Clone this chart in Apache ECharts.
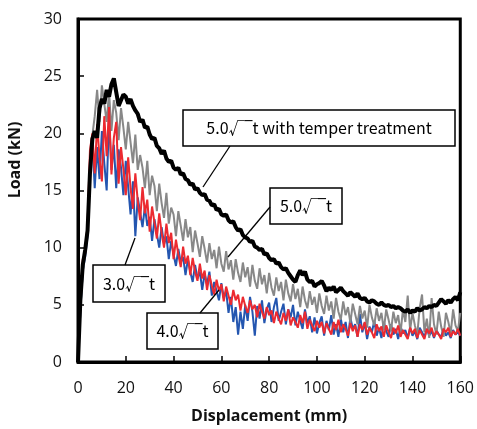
<!DOCTYPE html>
<html>
<head>
<meta charset="utf-8">
<script src="https://cdn.jsdelivr.net/npm/echarts@6/dist/echarts.min.js"></script>
<style>
  html, body { margin: 0; padding: 0; background: #fff; }
  #chart { width: 477px; height: 429px; }
</style>
</head>
<body>
<div id="chart"></div>
<script>
// displacement sampled every 1 mm, 0..160
var stepMm = 1;

var xTicks = [0, 20, 40, 60, 80, 100, 120, 140, 160];
var yTicks = [0, 5, 10, 15, 20, 25, 30];

// 5.0√t with temper treatment (kN)
var loadTemper = [
  0, 5.5, 8.5, 9.8, 11.5, 16.5, 19.5, 20.2, 19.6, 22.2,
  23.0, 22.6, 23.8, 23.2, 24.3, 24.8, 23.6, 22.4, 22.9, 23.4,
  23.2, 22.6, 23.0, 22.4, 22.0, 21.7, 21.0, 21.2, 20.5, 20.6,
  19.9, 19.5, 19.6, 18.9, 18.7, 18.2, 18.5, 17.8, 17.5, 17.6,
  17.0, 16.8, 17.0, 16.4, 16.5, 16.0, 15.9, 15.5, 15.6, 15.1,
  15.2, 14.8, 14.6, 14.7, 14.2, 14.1, 13.7, 13.8, 13.3, 13.4,
  12.9, 12.8, 12.9, 12.4, 12.2, 12.3, 11.8, 11.5, 11.6, 11.1,
  10.9, 10.8, 10.5, 10.6, 10.1, 10.0, 9.8, 9.9, 9.4, 9.5,
  9.1, 8.9, 9.0, 8.6, 8.7, 8.3, 8.1, 8.2, 7.8, 7.5,
  7.2, 7.0, 7.6, 8.0, 7.6, 7.9, 7.2, 7.0, 7.1, 6.6,
  6.8, 6.9, 7.1, 6.7, 6.2, 6.5, 6.3, 6.6, 6.1, 6.3,
  6.5, 6.2, 6.0, 5.8, 6.1, 5.9, 5.7, 6.0, 5.6, 5.5,
  5.6, 5.3, 5.2, 5.4, 5.3, 5.1, 5.0, 5.2, 5.0, 4.9,
  5.0, 4.8, 4.9, 4.7, 4.8, 4.7, 4.5, 4.4, 4.6, 4.3,
  4.5, 4.4, 4.7, 4.5, 4.6, 4.8, 4.7, 4.9, 4.8, 5.0,
  4.9, 5.2, 5.5, 5.3, 5.1, 5.4, 5.2, 5.5, 5.7, 5.4,
  6.1
];

// 5.0√t
var loadT50 = [
  0, 4.5, 8.0, 9.5, 12.0, 17.5, 19.8, 21.5, 23.8, 21.0,
  24.2, 22.6, 21.0, 23.6, 20.2, 22.9, 21.8, 19.4, 22.2, 20.5,
  18.6, 21.0, 19.2, 17.4, 19.9, 16.8, 18.1, 17.0, 15.2, 17.6,
  14.6, 16.3, 15.4, 13.2, 15.6, 13.9, 12.6, 14.8, 12.1, 13.5,
  12.9, 11.0, 13.2, 11.9, 10.6, 12.5, 10.9, 11.8, 9.6, 11.5,
  10.4, 9.2, 11.0, 9.9, 8.7, 10.4, 9.0, 9.8, 8.2, 10.1,
  8.6, 7.9, 9.7, 8.1, 8.9, 7.2, 9.0, 7.8, 7.0, 8.7,
  7.4, 8.3, 6.6, 8.5, 7.1, 6.4, 8.2, 6.8, 7.6, 6.0,
  7.8, 6.5, 5.8, 7.4, 6.2, 7.0, 5.4, 7.2, 6.0, 5.3,
  6.8, 5.5, 6.4, 4.8, 6.6, 5.4, 4.7, 6.2, 5.0, 5.7,
  4.3, 6.0, 4.9, 4.2, 5.8, 4.5, 5.3, 3.8, 5.6, 4.4,
  3.7, 5.3, 4.1, 4.8, 3.4, 5.1, 4.2, 3.3, 4.9, 3.8,
  4.5, 3.0, 5.0, 3.9, 3.2, 4.7, 3.6, 4.3, 2.8, 4.6,
  3.7, 2.7, 4.4, 3.4, 4.1, 2.5, 4.6, 3.5, 5.8, 2.8,
  4.3, 3.2, 2.4, 4.7, 5.9, 2.6, 3.8, 2.1, 5.6, 3.3,
  2.4, 4.4, 3.1, 2.2, 4.3, 3.5, 2.5, 4.6, 3.2, 2.7,
  4.3
];

// 4.0√t
var loadT40 = [
  0, 5.0, 9.0, 9.5, 12.0, 18.5, 20.0, 16.5, 20.8, 17.9,
  15.8, 21.5, 18.0, 22.3, 16.4, 19.6, 21.0, 15.6, 18.8, 16.9,
  14.6, 17.9, 15.2, 13.4, 16.5, 14.1, 12.4, 15.3, 13.0, 14.2,
  11.4, 13.6, 12.2, 10.8, 13.0, 11.3, 10.0, 12.1, 10.4, 11.3,
  9.0, 10.7, 9.4, 8.3, 10.1, 8.6, 9.3, 7.6, 9.1, 7.9,
  7.1, 8.6, 7.3, 8.0, 6.3, 7.6, 6.7, 5.9, 7.2, 6.2,
  6.8, 5.3, 6.6, 5.8, 5.0, 6.3, 5.4, 5.9, 4.5, 5.7,
  4.9, 4.3, 5.4, 4.6, 5.0, 3.9, 5.1, 4.4, 3.8, 4.8,
  4.1, 4.5, 3.4, 4.4, 3.8, 3.3, 4.3, 3.6, 4.6, 3.2,
  3.9, 3.5, 3.0, 4.1, 3.4, 4.4, 2.9, 3.7, 3.2, 2.7,
  3.6, 3.0, 3.5, 2.5, 3.4, 2.9, 2.4, 3.5, 2.8, 3.7,
  2.6, 3.3, 2.9, 2.3, 3.4, 2.7, 3.2, 2.2, 3.3, 2.8,
  3.5, 2.4, 3.0, 2.6, 2.1, 3.3, 2.7, 3.1, 2.2, 3.2,
  2.6, 2.1, 3.0, 2.5, 3.2, 2.2, 2.8, 2.4, 2.0, 3.0,
  2.5, 2.9, 2.1, 2.8, 2.4, 2.0, 2.9, 2.5, 3.0, 2.2,
  2.7, 2.4, 2.0, 2.9, 2.6, 3.0, 2.2, 2.7, 2.4, 2.9,
  2.3
];

// 3.0√t
var loadT30 = [
  0, 4.5, 8.0, 9.2, 11.0, 17.0, 19.5, 15.2, 18.8, 16.0,
  20.2, 17.4, 15.0, 21.5, 16.8, 19.0, 15.2, 18.6, 17.0, 14.6,
  17.6, 15.3, 12.9, 15.8, 11.0, 14.4, 13.1, 11.8, 13.6, 11.9,
  12.7, 10.6, 12.5, 11.2, 10.0, 11.8, 10.3, 11.0, 9.0, 10.6,
  9.4, 8.4, 9.9, 8.7, 9.2, 7.6, 9.0, 7.9, 7.0, 8.5,
  7.3, 7.9, 6.3, 7.7, 6.8, 7.9, 5.8, 7.0, 6.2, 5.4,
  6.9, 5.6, 6.2, 4.3, 5.7, 3.5, 4.8, 2.4, 4.4, 2.9,
  5.0, 3.6, 5.7, 4.4, 2.3, 4.9, 3.8, 5.4, 3.4, 4.6,
  5.2, 3.5, 4.8, 5.6, 3.6, 4.4, 5.1, 3.3, 4.6, 3.9,
  5.0, 3.2, 4.4, 3.6, 2.9, 4.6, 3.4, 4.0, 2.6, 3.9,
  2.5, 3.4, 4.0, 2.3, 3.6, 2.8, 4.1, 2.4, 3.3, 2.2,
  3.8, 2.6, 3.5, 2.1, 3.9, 2.9, 3.3, 2.2, 4.2, 2.6,
  3.4, 2.0, 3.1, 2.6, 3.6, 2.3, 3.0, 2.1, 3.5, 2.7,
  2.2, 3.3, 2.4, 2.9, 2.0, 3.1, 2.5, 2.8, 2.1, 3.0,
  2.3, 2.7, 2.0, 3.0, 2.6, 2.2, 2.9, 2.3, 2.7, 2.1,
  2.8, 2.4, 2.2, 2.9, 2.3, 2.6, 2.1, 2.8, 2.4, 2.6,
  2.3
];

function toPairs(arr) {
  return arr.map(function (v, i) { return [i * stepMm, v]; });
}

var chart = echarts.init(document.getElementById('chart'));

var labelFont = '"Open Sans", "Noto Sans", sans-serif';
var boxFont = '"Noto Sans CJK JP", "Noto Sans", sans-serif';

function box(x, y, w, h, text) {
  return {
    type: 'group',
    children: [
      { type: 'rect', shape: { x: x, y: y, width: w, height: h },
        style: { fill: '#fff', stroke: '#000', lineWidth: 1.5 } },
      { type: 'text', x: x + w / 2, y: y + h / 2,
        style: { text: text, fill: '#000', font: '16px ' + boxFont,
          textAlign: 'center', textVerticalAlign: 'middle' } }
    ]
  };
}

function leader(x1, y1, x2, y2) {
  return { type: 'line', shape: { x1: x1, y1: y1, x2: x2, y2: y2 },
    style: { stroke: '#000', lineWidth: 1.3 }, z: 100 };
}

var option = {
  animation: false,
  backgroundColor: '#fff',
  grid: {
    left: 78, right: 15, top: 19, bottom: 66,
    show: true, borderColor: '#000', borderWidth: 3
  },
  xAxis: {
    type: 'value',
    min: 0, max: 160, interval: 20,
    name: 'Displacement (mm)',
    nameLocation: 'middle',
    nameGap: 46,
    nameTextStyle: { fontFamily: labelFont, fontWeight: 'bold', fontSize: 16, color: '#111' },
    axisLine: { show: true, lineStyle: { color: '#000', width: 3 } },
    axisTick: { show: true, inside: true, length: 6, lineStyle: { color: '#000', width: 1.5 } },
    axisLabel: { margin: 18, fontFamily: labelFont, fontSize: 16, color: '#111',
      formatter: function (v) { return xTicks.indexOf(v) >= 0 ? String(v) : ''; } },
    splitLine: { show: false }
  },
  yAxis: {
    type: 'value',
    min: 0, max: 30, interval: 5,
    axisLine: { show: true, lineStyle: { color: '#000', width: 3 } },
    axisTick: { show: true, inside: true, length: 6, lineStyle: { color: '#000', width: 1.5 } },
    axisLabel: { margin: 16, fontFamily: labelFont, fontSize: 16, color: '#111',
      formatter: function (v) { return yTicks.indexOf(v) >= 0 ? String(v) : ''; } },
    splitLine: { show: false }
  },
  series: [
    { name: '3.0√t', type: 'line', data: toPairs(loadT30), showSymbol: false,
      lineStyle: { color: '#2456b0', width: 2 }, z: 2 },
    { name: '5.0√t', type: 'line', data: toPairs(loadT50), showSymbol: false,
      lineStyle: { color: '#888888', width: 2 }, z: 3 },
    { name: '4.0√t', type: 'line', data: toPairs(loadT40), showSymbol: false,
      lineStyle: { color: '#ec2a30', width: 2 }, z: 4 },
    { name: '5.0√t with temper treatment', type: 'line', data: toPairs(loadTemper), showSymbol: false,
      lineStyle: { color: '#000', width: 4 }, z: 5 }
  ],
  graphic: [
    { type: 'text', x: 15, y: 160, rotation: Math.PI / 2,
      style: { text: 'Load (kN)', fill: '#111', font: 'bold 16px ' + labelFont,
        textAlign: 'center', textVerticalAlign: 'middle' } },
    leader(230, 146, 203, 187),
    leader(270, 207, 228, 257),
    leader(125, 265, 135, 238),
    leader(200, 313, 219, 290),
    box(183, 110, 272, 36, '5.0√‾t with temper treatment'),
    box(270, 188, 72, 36, '5.0√‾t'),
    box(93, 265, 72, 37, '3.0√‾t'),
    box(147, 313, 71, 36, '4.0√‾t')
  ]
};

chart.setOption(option);
</script>
</body>
</html>
